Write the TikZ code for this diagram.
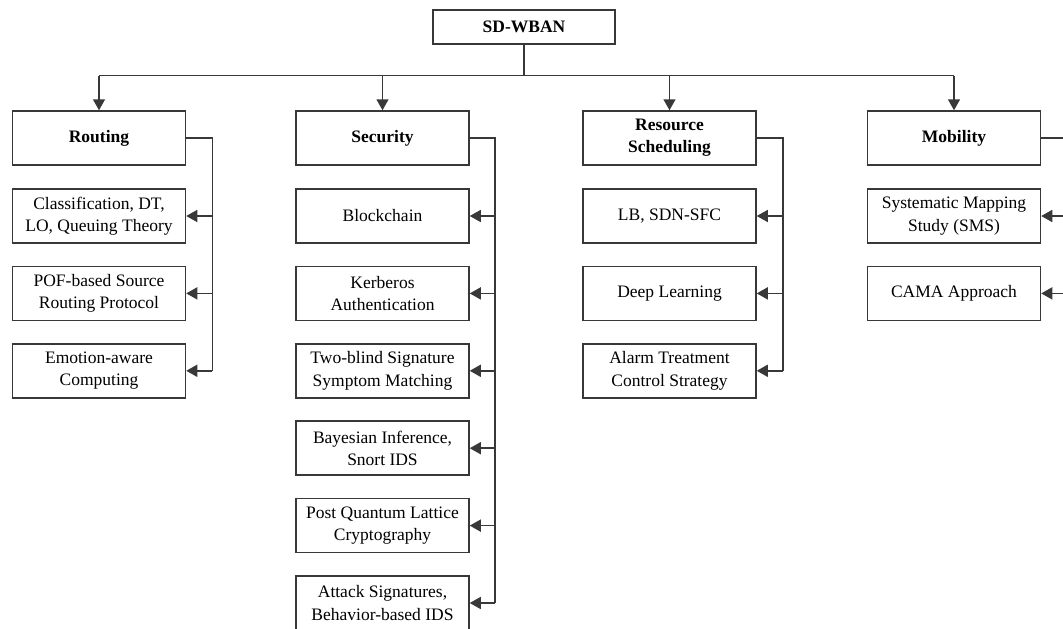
\documentclass[tikz,border=0pt]{standalone}
\usepackage{fontspec}
\setmainfont{Liberation Serif}
\usetikzlibrary{arrows.meta,calc}
\begin{document}
\begin{tikzpicture}[x=1pt,y=-1pt,
  box/.style={draw=black!78,line width=1.5pt,minimum width=173pt,minimum height=54pt,inner sep=2pt,align=center,font=\fontsize{17.5}{22.5}\selectfont,fill=white},
  headbox/.style={box,font=\fontsize{17.5}{22}\selectfont\bfseries},
  topbox/.style={headbox,minimum width=182pt,minimum height=34pt},
  link/.style={draw=black!78,line width=1.5pt},
  arr/.style={link,-{Triangle[length=11pt,width=12pt]}}]
\useasboundingbox (0,0) rectangle (1063,629);
\clip (0,0) rectangle (1063,629);
\fill[white] (0,0) rectangle (1063,629);
% top
\node[topbox] (top) at (524,27) {SD-WBAN};
% heads
\node[headbox] (r) at (99,138) {Routing};
\node[headbox] (s) at (382.5,138) {Security};
\node[headbox] (c) at (669.5,138) {Resource\\Scheduling};
\node[headbox] (m) at (954,138) {Mobility};
% routing children
\node[box] (r1) at (99,216) {Classification, DT,\\LO, Queuing Theory};
\node[box] (r2) at (99,293.4) {POF-based Source\\Routing Protocol};
\node[box] (r3) at (99,370.8) {Emotion-aware\\Computing};
% security children
\node[box] (s1) at (382.5,216) {Blockchain};
\node[box] (s2) at (382.5,293.4) {Kerberos\\Authentication};
\node[box] (s3) at (382.5,370.8) {Two-blind Signature\\Symptom Matching};
\node[box] (s4) at (382.5,448.2) {Bayesian Inference,\\Snort IDS};
\node[box] (s5) at (382.5,525.6) {Post Quantum Lattice\\Cryptography};
\node[box] (s6) at (382.5,603) {Attack Signatures,\\Behavior-based IDS};
% resource children
\node[box] (c1) at (669.5,216) {LB, SDN-SFC};
\node[box] (c2) at (669.5,293.4) {Deep Learning};
\node[box] (c3) at (669.5,370.8) {Alarm Treatment\\Control Strategy};
% mobility children
\node[box] (m1) at (954,216) {Systematic Mapping\\Study (SMS)};
\node[box] (m2) at (954,293.4) {CAMA Approach};
% top connectors
\coordinate (bar) at (524,75.5);
\draw[link] (top.south) -- (bar);
\draw[link] (r.north |- bar) -- (m.north |- bar);
\foreach \h in {r,s,c,m} \draw[arr] (\h.north |- bar) -- (\h.north);
% side buses
\coordinate (rb) at ($(r.east)+(26,0)$);
\coordinate (sb) at ($(s.east)+(25,0)$);
\coordinate (cb) at ($(c.east)+(26,0)$);
\coordinate (mb) at ($(m.east)+(26,0)$);
\draw[link] (r.east) -- (rb) -- (rb |- r3.east);
\draw[link] (s.east) -- (sb) -- (sb |- s6.east);
\draw[link] (c.east) -- (cb) -- (cb |- c3.east);
\draw[link] (m.east) -- (mb) -- (mb |- m2.east);
\foreach \k in {r1,r2,r3} \draw[arr] (rb |- \k.east) -- (\k.east);
\foreach \k in {s1,s2,s3,s4,s5,s6} \draw[arr] (sb |- \k.east) -- (\k.east);
\foreach \k in {c1,c2,c3} \draw[arr] (cb |- \k.east) -- (\k.east);
\foreach \k in {m1,m2} \draw[arr] (mb |- \k.east) -- (\k.east);
\end{tikzpicture}
\end{document}
